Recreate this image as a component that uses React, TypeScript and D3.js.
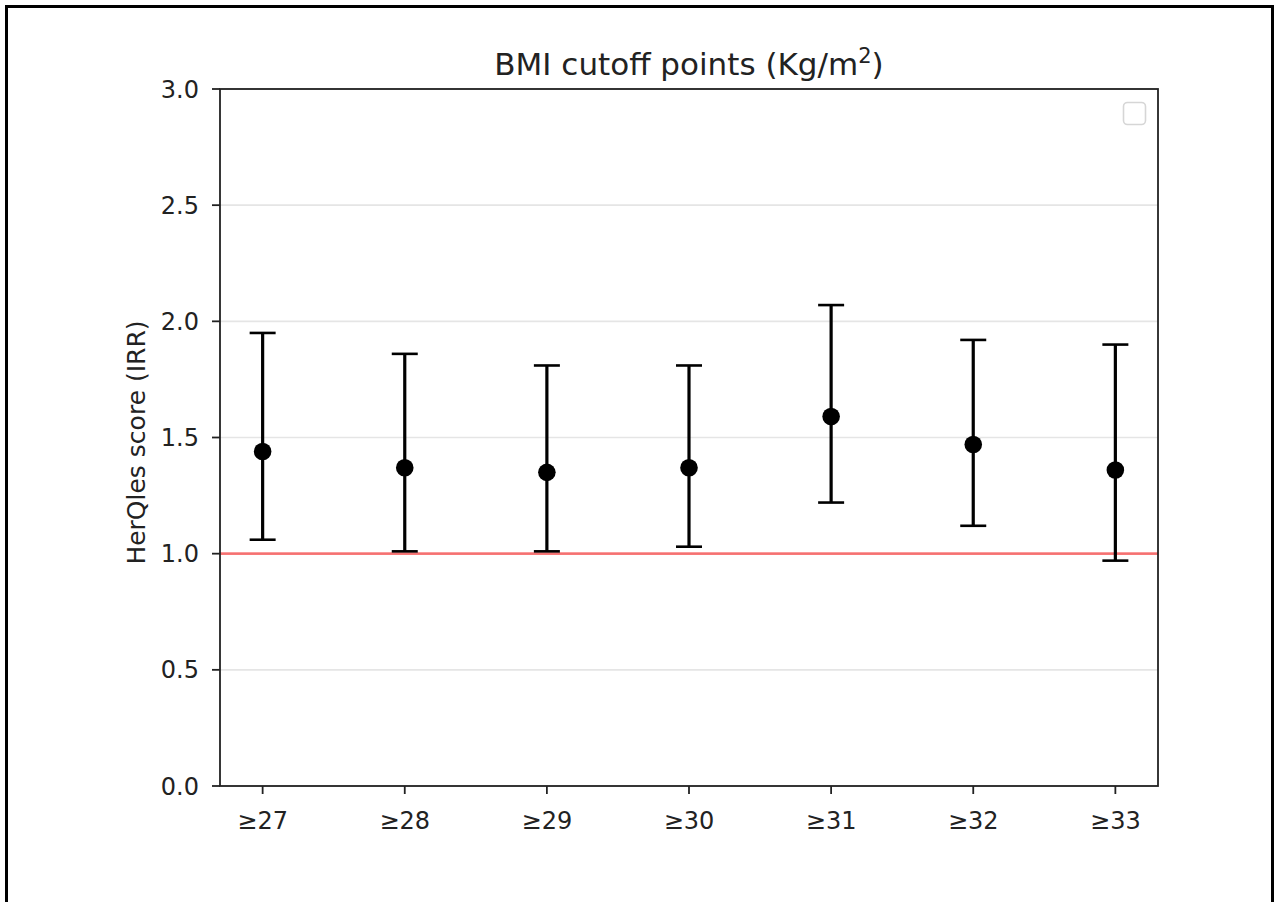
import React from "react";
import * as d3 from "d3";

// BMI cutoff categories and IRR estimates with 95% CI
const categories = ["≥27", "≥28", "≥29", "≥30", "≥31", "≥32", "≥33"];
const irr = [1.44, 1.37, 1.35, 1.37, 1.59, 1.47, 1.36];
const lower = [1.06, 1.01, 1.01, 1.03, 1.22, 1.12, 0.97];
const upper = [1.95, 1.86, 1.81, 1.81, 2.07, 1.92, 1.9];
const yTicks = [0, 0.5, 1.0, 1.5, 2.0, 2.5, 3.0];
const refLine = 1.0;

const W = 1274;
const H = 902;
const plot = { left: 220, right: 1158, top: 89, bottom: 786 };
const font = "'DejaVu Sans', sans-serif";

const App = () => {
  const x = d3
    .scalePoint<string>()
    .domain(categories)
    .range([plot.left, plot.right])
    .padding(0.3);

  const y = d3.scaleLinear().domain([0, 3]).range([plot.bottom, plot.top]);

  const cap = 13;

  return (
    <div style={{ position: "absolute", left: 0, top: 0 }}>
      <svg width={W} height={H} style={{ display: "block", background: "#fff" }}>
        {/* outer frame */}
        <rect x={6.5} y={6.5} width={1266} height={1000} fill="none" stroke="#000" strokeWidth={3} />

        {/* gridlines */}
        {yTicks.map((t) => (
          <line
            key={"g" + t}
            x1={plot.left}
            x2={plot.right}
            y1={y(t)}
            y2={y(t)}
            stroke="#e5e5e5"
            strokeWidth={1.6}
          />
        ))}

        {/* reference line at IRR = 1 */}
        <line
          x1={plot.left}
          x2={plot.right}
          y1={y(refLine)}
          y2={y(refLine)}
          stroke="#ff0000"
          strokeOpacity={0.5}
          strokeWidth={2.6}
        />

        {/* error bars */}
        {categories.map((c, i) => {
          const cx = x(c)!;
          return (
            <g key={c}>
              <line x1={cx} x2={cx} y1={y(lower[i])} y2={y(upper[i])} stroke="#000" strokeWidth={3.2} />
              <line x1={cx - cap} x2={cx + cap} y1={y(upper[i])} y2={y(upper[i])} stroke="#000" strokeWidth={2.6} />
              <line x1={cx - cap} x2={cx + cap} y1={y(lower[i])} y2={y(lower[i])} stroke="#000" strokeWidth={2.6} />
              <circle cx={cx} cy={y(irr[i])} r={8.8} fill="#000" />
            </g>
          );
        })}

        {/* axes box */}
        <rect
          x={plot.left}
          y={plot.top}
          width={plot.right - plot.left}
          height={plot.bottom - plot.top}
          fill="none"
          stroke="#222"
          strokeWidth={1.8}
        />

        {/* y ticks */}
        {yTicks.map((t) => (
          <g key={"yt" + t}>
            <line x1={plot.left - 8} x2={plot.left} y1={y(t)} y2={y(t)} stroke="#222" strokeWidth={1.8} />
            <text
              x={plot.left - 21}
              y={y(t)}
              dy="0.36em"
              textAnchor="end"
              fontFamily={font}
              fontSize={24}
              fill="#222"
            >
              {t.toFixed(1)}
            </text>
          </g>
        ))}

        {/* x ticks */}
        {categories.map((c) => (
          <g key={"xt" + c}>
            <line x1={x(c)} x2={x(c)} y1={plot.bottom} y2={plot.bottom + 8} stroke="#222" strokeWidth={1.8} />
            <text
              x={x(c)}
              y={plot.bottom + 43}
              textAnchor="middle"
              fontFamily={font}
              fontSize={24}
              fill="#222"
            >
              {c}
            </text>
          </g>
        ))}

        {/* y label */}
        <text
          transform={`translate(145, ${(plot.top + plot.bottom) / 2 + 5}) rotate(-90)`}
          textAnchor="middle"
          fontFamily={font}
          fontSize={25}
          fill="#222"
        >
          HerQles score (IRR)
        </text>

        {/* title */}
        <text
          x={(plot.left + plot.right) / 2}
          y={75}
          textAnchor="middle"
          fontFamily={font}
          fontSize={31}
          fill="#222"
        >
          BMI cutoff points (Kg/m
          <tspan fontSize={21} dy={-12}>2</tspan>
          <tspan dy={12}>)</tspan>
        </text>

        {/* empty legend box */}
        <rect x={1123.5} y={102.5} width={22} height={22} rx={4} fill="#fff" fillOpacity={0.8} stroke="#d6d6d6" strokeWidth={1.6} />
      </svg>
    </div>
  );
};

export default App;
